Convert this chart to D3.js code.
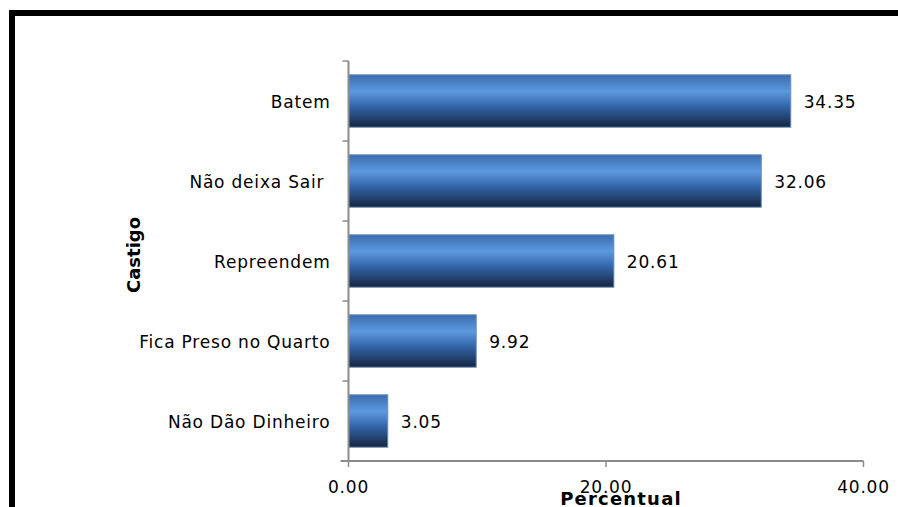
<!DOCTYPE html>
<html>
<head>
<meta charset="utf-8">
<script src="https://cdn.jsdelivr.net/npm/d3@7"></script>
<style>
  html, body { margin: 0; padding: 0; background: #fff; }
  svg { display: block; }
  text { font-family: "DejaVu Sans", Verdana, sans-serif; }
</style>
</head>
<body>
<svg id="chart" width="898" height="507"></svg>
<script>
const categories = ["Batem", "Não deixa Sair ", "Repreendem", "Fica Preso no Quarto", "Não Dão Dinheiro"];
const values = [34.35, 32.06, 20.61, 9.92, 3.05];
const xTicks = [0, 20, 40];
const xTitle = "Percentual";
const yTitle = "Castigo";

const svg = d3.select("#chart");

// frame
svg.append("rect")
  .attr("x", 12).attr("y", 13)
  .attr("width", 1000).attr("height", 1000)
  .attr("fill", "none").attr("stroke", "#000").attr("stroke-width", 6);

const x = d3.scaleLinear().domain([0, 40]).range([348.5, 863.5]);
const y = d3.scaleBand().domain(categories).range([61, 461]).paddingInner(0.345).paddingOuter(0.1725);
const yBand = d3.scaleBand().domain(categories).range([61, 461]);

const defs = svg.append("defs");
const grad = defs.append("linearGradient").attr("id", "barGrad")
  .attr("x1", 0).attr("y1", 0).attr("x2", 0).attr("y2", 1);
[[0, "#3a6cb0"], [0.32, "#5c99e0"], [0.6, "#3466ab"], [1, "#14253f"]].forEach(s =>
  grad.append("stop").attr("offset", s[0]).attr("stop-color", s[1]));

// bars
svg.append("g").selectAll("rect").data(values).join("rect")
  .attr("x", x(0))
  .attr("y", (d, i) => y(categories[i]))
  .attr("width", d => x(d) - x(0))
  .attr("height", y.bandwidth())
  .attr("fill", "url(#barGrad)")
  .attr("stroke", "#6d8cb6").attr("stroke-width", 1);

// value labels
svg.append("g").selectAll("text").data(values).join("text")
  .attr("x", d => x(d) + 13)
  .attr("y", (d, i) => y(categories[i]) + y.bandwidth() / 2 + 6.5)
  .attr("font-size", 17)
  .attr("letter-spacing", 0.8)
  .attr("fill", "#000")
  .text(d => d.toFixed(2));

// y axis
const yAxis = svg.append("g").attr("transform", `translate(${x(0)},0)`);
yAxis.append("line").attr("x1", 0).attr("x2", 0).attr("y1", 61).attr("y2", 461)
  .attr("stroke", "#8c8c8c").attr("stroke-width", 2);
const bounds = categories.map(c => yBand(c)).concat([461]);
yAxis.selectAll("line.tick").data(bounds).join("line").attr("class", "tick")
  .attr("x1", -6).attr("x2", 0).attr("y1", d => d).attr("y2", d => d)
  .attr("stroke", "#8c8c8c").attr("stroke-width", 1.5);
yAxis.selectAll("text").data(categories).join("text")
  .attr("x", -18)
  .attr("y", c => y(c) + y.bandwidth() / 2 + 6.5)
  .attr("text-anchor", "end")
  .attr("font-size", 17)
  .attr("letter-spacing", 0.8)
  .style("white-space", "pre")
  .attr("fill", "#000")
  .text(c => c);

// x axis
const xAxis = svg.append("g").attr("transform", "translate(0,461)");
xAxis.append("line").attr("x1", x(0) - 8).attr("x2", x(40)).attr("y1", 0).attr("y2", 0)
  .attr("stroke", "#8c8c8c").attr("stroke-width", 2);
xAxis.selectAll("line.tick").data(xTicks).join("line").attr("class", "tick")
  .attr("x1", d => x(d)).attr("x2", d => x(d)).attr("y1", 0).attr("y2", 6)
  .attr("stroke", "#8c8c8c").attr("stroke-width", 1.5);
xAxis.selectAll("text").data(xTicks).join("text")
  .attr("x", d => x(d))
  .attr("y", 32)
  .attr("text-anchor", "middle")
  .attr("font-size", 17)
  .attr("letter-spacing", 0.8)
  .attr("fill", "#000")
  .text(d => d.toFixed(2));

// titles
svg.append("text")
  .attr("x", 621).attr("y", 505)
  .attr("text-anchor", "middle")
  .attr("font-size", 18).attr("font-weight", "bold")
  .attr("letter-spacing", 1.2)
  .text(xTitle);
svg.append("text")
  .attr("transform", "translate(140,255) rotate(-90)")
  .attr("text-anchor", "middle")
  .attr("font-size", 18).attr("font-weight", "bold")
  .text(yTitle);
</script>
</body>
</html>
